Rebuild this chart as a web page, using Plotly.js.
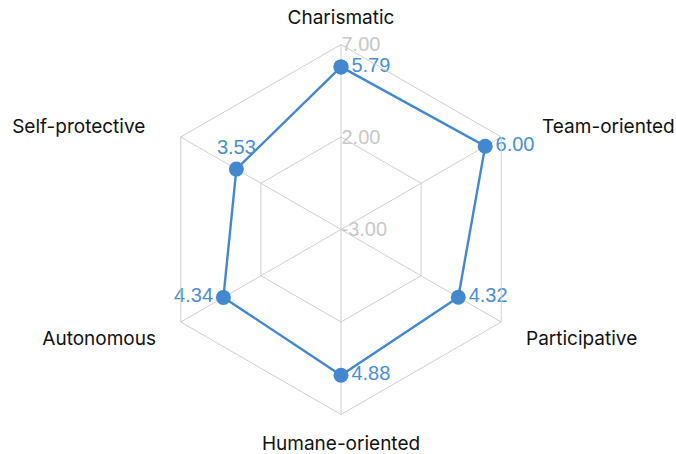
<!DOCTYPE html>
<html>
<head>
<meta charset="utf-8">
<script src="https://cdn.plot.ly/plotly-3.0.1.min.js"></script>
<style>html,body{margin:0;padding:0;background:#fff;}#chart{width:676px;height:454px;}</style>
</head>
<body>
<div id="chart"></div>
<script>
const categories = ["Charismatic", "Team-oriented", "Participative", "Humane-oriented", "Autonomous", "Self-protective"];
const values = [5.79, 6.00, 4.32, 4.88, 4.34, 3.53];
const valueLabels = ["5.79", "6.00", "4.32", "4.88", "4.34", "3.53"];
const labelPositions = ["middle right", "middle right", "middle right", "middle right", "middle left", "top center"];
const radialTicks = [-3, 2, 7];
const radialTickText = ["-3.00", "2.00", "7.00"];
// extra spacing (non-breaking spaces) between each category label and the chart
const labelPadLeft = [0, 5, 2, 0, 0, 0];
const labelPadRight = [0, 0, 0, 0, 2, 4];

const NB = "\u00a0";
const categoryText = categories.map((c, i) => NB.repeat(labelPadLeft[i]) + c + NB.repeat(labelPadRight[i]));

const blue = "#4388cf";
const trace = {
  type: "scatterpolar",
  r: values.concat([values[0]]),
  theta: categories.concat([categories[0]]),
  text: valueLabels.concat([""]),
  mode: "lines+markers+text",
  textposition: labelPositions.concat(["middle right"]),
  textfont: {family: "Liberation Sans, Arial, sans-serif", size: 20, color: "#4a8fd6"},
  line: {color: blue, width: 2.4},
  marker: {color: blue, size: 15},
  cliponaxis: false,
  hoverinfo: "skip"
};

const layout = {
  width: 676, height: 454,
  margin: {l: 156, r: 150, t: 44, b: 39},
  paper_bgcolor: "#fff",
  showlegend: false,
  font: {family: "Inter, sans-serif", size: 19, color: "#111"},
  polar: {
    bgcolor: "rgba(0,0,0,0)",
    gridshape: "linear",
    domain: {x: [0, 1], y: [0, 1]},
    radialaxis: {
      range: [-3, 7],
      tickmode: "array",
      tickvals: radialTicks,
      ticktext: radialTickText,
      angle: 90,
      tickangle: 90,
      side: "clockwise",
      showline: false,
      ticks: "",
      gridcolor: "#cfcfcf",
      gridwidth: 1,
      tickfont: {family: "Liberation Sans, Arial, sans-serif", size: 20, color: "#c8c8c8"}
    },
    angularaxis: {
      direction: "clockwise",
      rotation: 90,
      tickmode: "array",
      tickvals: categories,
      ticktext: categoryText,
      showline: true,
      linecolor: "#cfcfcf",
      linewidth: 1,
      gridcolor: "#cfcfcf",
      gridwidth: 1,
      ticks: "outside",
      ticklen: 12,
      tickcolor: "rgba(0,0,0,0)",
      tickfont: {family: "Inter, sans-serif", size: 19, color: "#111"}
    }
  }
};

Plotly.newPlot("chart", [trace], layout, {displayModeBar: false, staticPlot: true});
</script>
</body>
</html>
